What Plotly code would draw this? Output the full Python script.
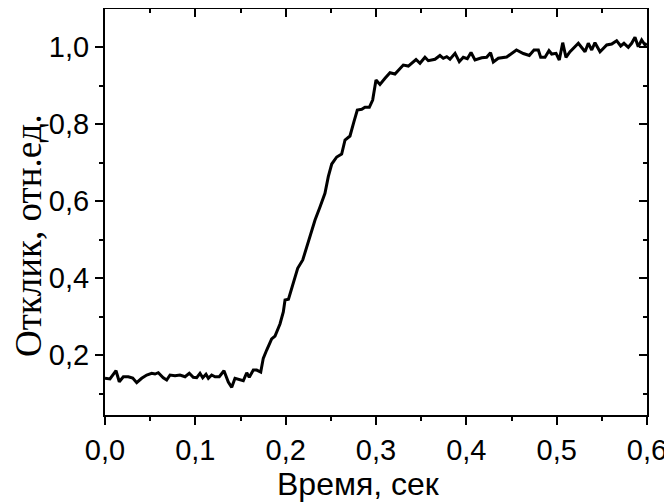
import plotly.graph_objects as go

time_s = [0.0000, 0.0055, 0.0122, 0.0158, 0.0203, 0.0258, 0.0307, 0.0351, 0.0406, 0.0462,
          0.0517, 0.0554, 0.0590, 0.0645, 0.0683, 0.0720, 0.0775, 0.0830, 0.0886, 0.0933,
          0.0977, 0.1015, 0.1052, 0.1082, 0.1118, 0.1144, 0.1181, 0.1218, 0.1265, 0.1317,
          0.1365, 0.1403, 0.1439, 0.1494, 0.1531, 0.1569, 0.1597, 0.1642, 0.1679, 0.1724,
          0.1752, 0.1790, 0.1845, 0.1882, 0.1937, 0.1974, 0.1993, 0.2031, 0.2084, 0.2133,
          0.2189, 0.2233, 0.2288, 0.2325, 0.2380, 0.2435, 0.2472, 0.2510, 0.2565, 0.2620,
          0.2657, 0.2712, 0.2756, 0.2793, 0.2842, 0.2878, 0.2926, 0.2963, 0.3000, 0.3044,
          0.3100, 0.3155, 0.3210, 0.3247, 0.3302, 0.3358, 0.3395, 0.3443, 0.3487, 0.3542,
          0.3579, 0.3653, 0.3708, 0.3745, 0.3783, 0.3819, 0.3875, 0.3922, 0.3966, 0.4011,
          0.4052, 0.4096, 0.4170, 0.4225, 0.4268, 0.4299, 0.4354, 0.4447, 0.4555, 0.4631,
          0.4697, 0.4749, 0.4797, 0.4823, 0.4871, 0.4915, 0.4945, 0.4993, 0.5029, 0.5067,
          0.5103, 0.5148, 0.5240, 0.5314, 0.5350, 0.5388, 0.5424, 0.5480, 0.5554, 0.5609,
          0.5664, 0.5709, 0.5745, 0.5793, 0.5830, 0.5867, 0.5903, 0.5941, 0.5978, 0.5997]

response = [0.1395, 0.1377, 0.1592, 0.1306, 0.1436, 0.1436, 0.1403, 0.1281, 0.1395, 0.1481,
            0.1525, 0.1506, 0.1540, 0.1410, 0.1351, 0.1481, 0.1462, 0.1481, 0.1436, 0.1525,
            0.1421, 0.1410, 0.1525, 0.1410, 0.1499, 0.1395, 0.1481, 0.1436, 0.1436, 0.1592,
            0.1299, 0.1161, 0.1395, 0.1369, 0.1332, 0.1540, 0.1421, 0.1610, 0.1610, 0.1558,
            0.1914, 0.2130, 0.2416, 0.2494, 0.2805, 0.3117, 0.3429, 0.3447, 0.3862, 0.4252,
            0.4468, 0.4813, 0.5247, 0.5506, 0.5844, 0.6200, 0.6631, 0.6961, 0.7143, 0.7221,
            0.7584, 0.7688, 0.8060, 0.8364, 0.8382, 0.8434, 0.8434, 0.8623, 0.9143, 0.9026,
            0.9187, 0.9332, 0.9299, 0.9403, 0.9532, 0.9506, 0.9577, 0.9675, 0.9577, 0.9732,
            0.9644, 0.9681, 0.9779, 0.9707, 0.9748, 0.9681, 0.9836, 0.9618, 0.9732, 0.9694,
            0.9857, 0.9662, 0.9719, 0.9732, 0.9852, 0.9610, 0.9707, 0.9740, 0.9922, 0.9831,
            0.9779, 0.9922, 0.9922, 0.9732, 0.9732, 0.9904, 0.9818, 0.9836, 0.9662, 1.0112,
            0.9732, 0.9878, 1.0096, 0.9878, 1.0096, 0.9922, 1.0112, 0.9878, 1.0052, 1.0078,
            1.0164, 1.0026, 1.0096, 0.9992, 1.0096, 1.0252, 1.0008, 1.0182, 1.0052, 1.0096]

x_range = [0.0, 0.6]
y_range = [0.0442, 1.0987]
x_ticks = [0.0, 0.1, 0.2, 0.3, 0.4, 0.5, 0.6]
y_ticks = [0.2, 0.4, 0.6, 0.8, 1.0]
x_title = "Время, сек"
y_title = "Отклик, отн.ед."

tick_font = dict(family="Liberation Sans, Arial", size=29, color="black")

fig = go.Figure()
fig.add_trace(go.Scatter(x=time_s, y=response, mode="lines",
                         line=dict(color="black", width=3), showlegend=False))
# invisible trace to activate mirrored top/right axes
fig.add_trace(go.Scatter(x=time_s, y=response, mode="lines", xaxis="x2", yaxis="y2",
                         line=dict(color="rgba(0,0,0,0)", width=0), showlegend=False,
                         hoverinfo="skip"))

common = dict(showgrid=False, zeroline=False, showline=True, linecolor="black",
              linewidth=2, tickcolor="black", tickwidth=2, automargin=False)

fig.update_layout(
    width=664, height=496,
    margin=dict(l=97, r=25, t=1, b=89),
    paper_bgcolor="white", plot_bgcolor="white",
    separators=", ",
    xaxis=dict(range=x_range, tickvals=x_ticks, tickformat=".1f", ticks="outside",
               ticklen=8, tickfont=tick_font,
               minor=dict(dtick=0.05, tick0=0, ticks="outside", ticklen=4,
                          tickwidth=2, tickcolor="black"),
               **common),
    yaxis=dict(range=y_range, tickvals=y_ticks, tickformat=".1f", ticks="outside",
               ticklen=8, tickfont=tick_font,
               minor=dict(dtick=0.1, tick0=0, ticks="outside", ticklen=4,
                          tickwidth=2, tickcolor="black"),
               **common),
    xaxis2=dict(range=x_range, overlaying="x", side="top", tickvals=x_ticks,
                ticks="inside", ticklen=8, showticklabels=False,
                minor=dict(dtick=0.05, tick0=0, ticks="inside", ticklen=4,
                           tickwidth=2, tickcolor="black"),
                **common),
    yaxis2=dict(range=y_range, overlaying="y", side="right", tickvals=y_ticks,
                ticks="inside", ticklen=8, showticklabels=False,
                minor=dict(dtick=0.1, tick0=0, ticks="inside", ticklen=4,
                           tickwidth=2, tickcolor="black"),
                **common),
    annotations=[
        dict(text=x_title, xref="paper", yref="paper", x=0.468, y=-0.170,
             xanchor="center", yanchor="middle", showarrow=False,
             font=dict(family="Liberation Sans, Arial", size=32, color="black")),
        dict(text=y_title, xref="paper", yref="paper", x=-0.140, y=0.441,
             xanchor="center", yanchor="middle", showarrow=False, textangle=-90,
             font=dict(family="Liberation Serif, Times New Roman", size=37, color="black")),
    ],
)

fig.write_html("out.html")
